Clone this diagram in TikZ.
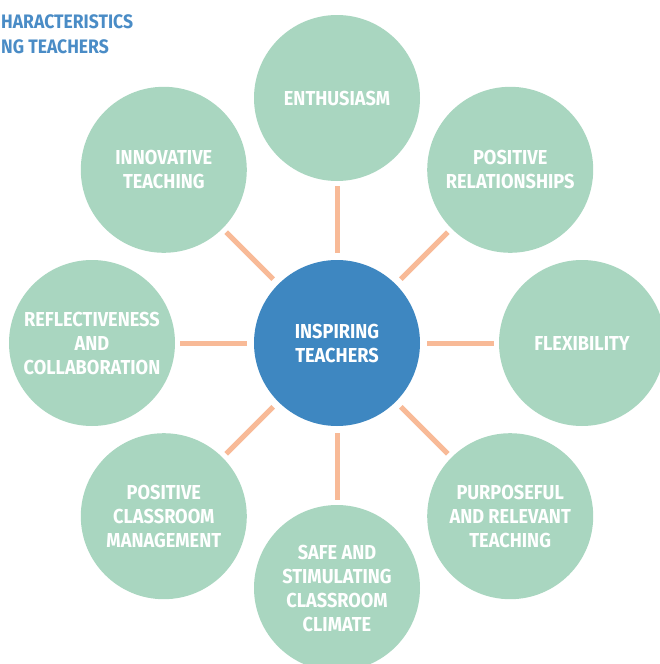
\documentclass[tikz,border=0pt]{standalone}
\usepackage{fontspec}
\setmainfont{Fira Sans}[FakeStretch=0.9]
\definecolor{traitgreen}{HTML}{A9D6C0}
\definecolor{hubblue}{HTML}{3E87C1}
\definecolor{spokepeach}{HTML}{F8BA97}
\definecolor{titleblue}{HTML}{4A8CC6}
\begin{document}
\begin{tikzpicture}[x=1pt,y=1pt,
  trait/.style={circle,fill=traitgreen,minimum size=166pt,inner sep=0pt,
    text=white,align=center,font=\bfseries\fontsize{20.2}{24}\selectfont},
  hub/.style={trait,fill=hubblue},
  spoke/.style={draw=spokepeach,line width=5pt,shorten <=7pt,shorten >=5pt}]
  \useasboundingbox (0,0) rectangle (659,-664);

  %% title (cut at the left edge)
  \node[anchor=north west,inner sep=0pt,align=left,text=titleblue,
    font=\bfseries\fontsize{19.5}{25}\selectfont] (title) at (1,-14)
    {HARACTERISTICS\\NG TEACHERS};

  %% hub
  \node[hub] (hub) at (337,-343) {INSPIRING\\TEACHERS};

  %% traits
  \node[trait] (enth) at (337,-98) {ENTHUSIASM};
  \node[trait] (rel) at (510.2,-169.8) {POSITIVE\\RELATIONSHIPS};
  \node[trait] (flex) at (582,-343) {FLEXIBILITY};
  \node[trait] (purp) at (510.2,-516.2) {PURPOSEFUL\\AND RELEVANT\\TEACHING};
  \node[trait] (safe) at (337,-588) {SAFE AND\\STIMULATING\\CLASSROOM\\CLIMATE};
  \node[trait] (manage) at (163.8,-516.2) {POSITIVE\\CLASSROOM\\MANAGEMENT};
  \node[trait] (refl) at (92,-343) {REFLECTIVENESS\\AND\\COLLABORATION};
  \node[trait] (innov) at (163.8,-169.8) {INNOVATIVE\\TEACHING};

  %% spokes
  \draw[spoke] (hub) -- (enth);
  \draw[spoke] (hub) -- (rel);
  \draw[spoke] (hub) -- (flex);
  \draw[spoke] (hub) -- (purp);
  \draw[spoke] (hub) -- (safe);
  \draw[spoke] (hub) -- (manage);
  \draw[spoke] (hub) -- (refl);
  \draw[spoke] (hub) -- (innov);

\end{tikzpicture}
\end{document}
